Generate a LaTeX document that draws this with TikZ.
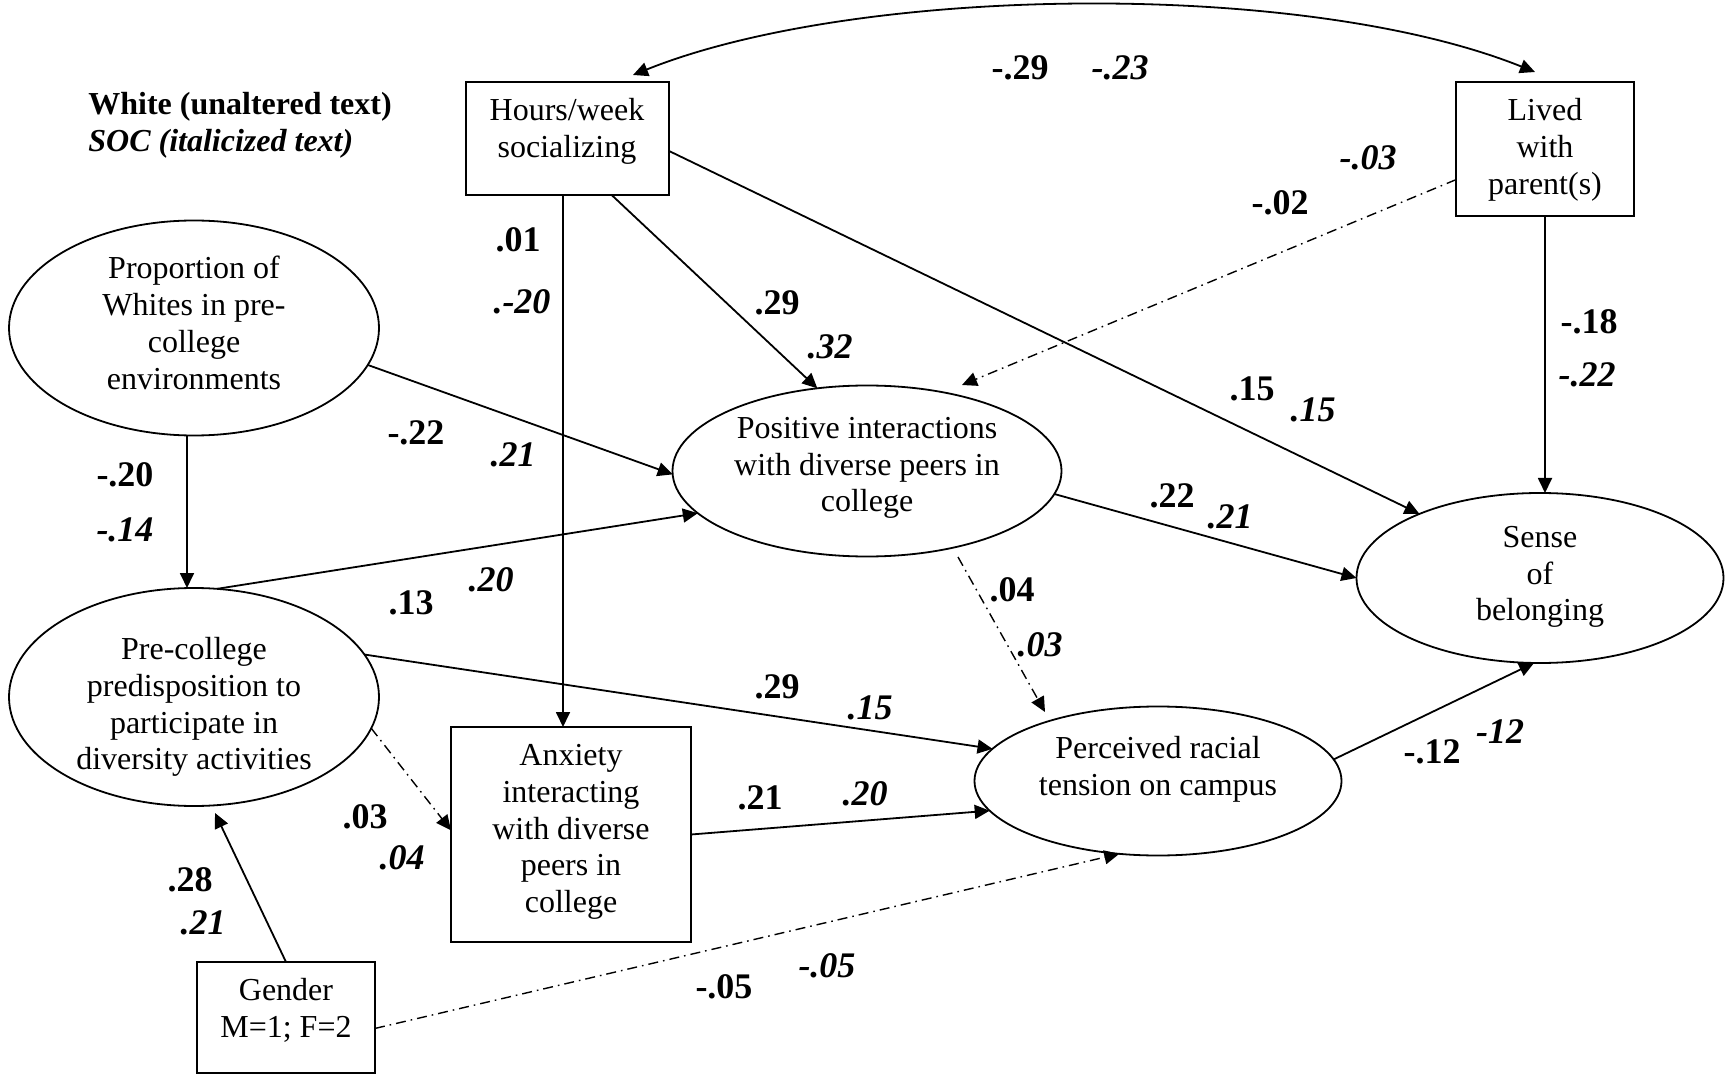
\documentclass[tikz,border=0pt]{standalone}
\usepackage{fontspec}
\setmainfont{Liberation Serif}
\usetikzlibrary{arrows.meta,shapes.geometric}
\begin{document}
\begin{tikzpicture}[x=0.5pt,y=-0.5pt,
  ell/.style={draw, ellipse, line width=0.9pt, inner sep=0pt, outer sep=0pt},
  box/.style={draw, rectangle, line width=0.75pt, inner sep=0pt, outer sep=0pt},
  txt/.style={font=\fontsize{16}{18.4}\selectfont, align=center, inner sep=0pt},
  cb/.style={font=\fontsize{18}{20}\selectfont\bfseries, inner sep=0pt},
  ci/.style={font=\fontsize{18}{20}\selectfont\bfseries\itshape, inner sep=0pt},
  tip/.style={-{Triangle[length=7.5pt,width=7pt]}},
  arr/.style={line width=0.9pt, tip},
  dd/.style={line width=0.7pt, dash pattern=on 5pt off 2.5pt on 0.8pt off 2.5pt, tip}
]
\fill[white, use as bounding box] (0,0) rectangle (1726,1075);

% shapes
\node[ell, minimum width=185pt, minimum height=107.5pt] (prop) at (194,328) {};
\node[ell, minimum width=185pt, minimum height=109pt] (pre) at (194,697) {};
\node[ell, minimum width=194.5pt, minimum height=85.5pt] (pos) at (867,471) {};
\node[ell, minimum width=183.5pt, minimum height=85pt] (sense) at (1540,578) {};
\node[ell, minimum width=183.5pt, minimum height=74.5pt] (perc) at (1158,781) {};
\node[box, minimum width=101.5pt, minimum height=56.5pt] (hours) at (567.5,138.5) {};
\node[box, minimum width=89pt, minimum height=67pt] (lived) at (1545,149) {};
\node[box, minimum width=120pt, minimum height=107.5pt] (anx) at (571,834.5) {};
\node[box, minimum width=89pt, minimum height=55.5pt] (gender) at (286,1017.5) {};

% texts
\node[txt] (propT) at (194,323) {Proportion of\\Whites in pre-\\college\\environments};
\node[txt] (preT) at (194,707) {Pre-college\\predisposition to\\participate in\\diversity activities};
\node[txt] (posT) at (867,468) {Positive interactions\\with diverse peers in\\college};
\node[txt] (senseT) at (1540,577) {Sense\\of\\belonging};
\node[txt] (percT) at (1158,769) {Perceived racial\\tension on campus};
\node[txt] (hoursT) at (567,131) {Hours/week\\socializing};
\node[txt] (livedT) at (1545,150) {Lived\\with\\parent(s)};
\node[txt] (anxT) at (571,832) {Anxiety\\interacting\\with diverse\\peers in\\college};
\node[txt] (genderT) at (286,1010) {Gender\\M=1; F=2};

\node[font=\fontsize{16}{18}\selectfont\bfseries, anchor=west, inner sep=0pt] (t1) at (88,107) {White (unaltered text)};
\node[font=\fontsize{16}{18}\selectfont\bfseries\itshape, anchor=west, inner sep=0pt] (t2) at (88,144) {SOC (italicized text)};

% connectors
\draw[line width=0.9pt, {Triangle[length=7.5pt,width=7pt]}-{Triangle[length=7.5pt,width=7pt]}]
  ([shift={(65.5,-7)}]hours.north) .. controls (857,-15) and (1303,-21) .. ([shift={(-10,-10)}]lived.north);

\coordinate (hv) at ([xshift=-2.25pt]hours.south);
\draw[arr] (hv) -- (hv |- anx.north);
\draw[arr] (hours.308) -- (pos.121);
\draw[arr] (hours.353.2) -- (sense.152);
\draw[dd] (lived.199.6) -- ([shift={(95,-86)}]pos.center);
\draw[arr] (lived.south) -- (lived.south |- sense.north);
\draw[arr] (prop.348.3) -- (pos.181);
\coordinate (pv) at ([xshift=-3.5pt]prop.south);
\draw[arr] (pv) -- (pv |- pre.north);
\draw[arr] (pre.78.5) -- (pos.194.4);
\draw[arr] (pre.14.6) -- (perc.169.5);
\draw[dd] (pre.350.2) -- (anx.178.8);
\draw[arr] (gender.north) -- ([shift={(21,116)}]pre.center);
\draw[dd] (gender.353.9) -- (perc.242.2);
\draw[arr] (anx.east) -- (perc.190.9);
\draw[arr] (pos.353.4) -- (sense.180);
\draw[dd] ([shift={(91,86)}]pos.center) -- ([shift={(-113,-69)}]perc.center);
\draw[arr] (perc.7.1) -- (sense.266);

% coefficients
\node[cb] (l1) at (1020,68) {-.29};
\node[ci] (l2) at (1120,68) {-.23};
\node[cb] (l3) at (518,240) {.01};
\node[ci] (l4) at (522,302) {.-20};
\node[cb] (l5) at (777,303) {.29};
\node[ci] (l6) at (830,347) {.32};
\node[ci] (l7) at (1368,158) {-.03};
\node[cb] (l8) at (1280,203) {-.02};
\node[cb] (l9) at (1589,322) {-.18};
\node[ci] (l10) at (1587,375) {-.22};
\node[cb] (l11) at (1252,389) {.15};
\node[ci] (l12) at (1313,410) {.15};
\node[cb] (l13) at (416,433) {-.22};
\node[ci] (l14) at (513,455) {.21};
\node[cb] (l15) at (125,475) {-.20};
\node[ci] (l16) at (125,530) {-.14};
\node[cb] (l17) at (1172,496) {.22};
\node[ci] (l18) at (1230,517) {.21};
\node[cb] (l19) at (411,603) {.13};
\node[ci] (l20) at (491,580) {.20};
\node[cb] (l21) at (1012,590) {.04};
\node[ci] (l22) at (1040,645) {.03};
\node[cb] (l23) at (777,687) {.29};
\node[ci] (l24) at (870,708) {.15};
\node[cb] (l25) at (760,798) {.21};
\node[ci] (l26) at (865,794) {.20};
\node[cb] (l27) at (1432,752) {-.12};
\node[ci] (l28) at (1500,732) {-12};
\node[cb] (l29) at (365,817) {.03};
\node[ci] (l30) at (402,858) {.04};
\node[cb] (l31) at (190,880) {.28};
\node[ci] (l32) at (203,923) {.21};
\node[cb] (l33) at (724,987) {-.05};
\node[ci] (l34) at (827,966) {-.05};
\end{tikzpicture}
\end{document}
